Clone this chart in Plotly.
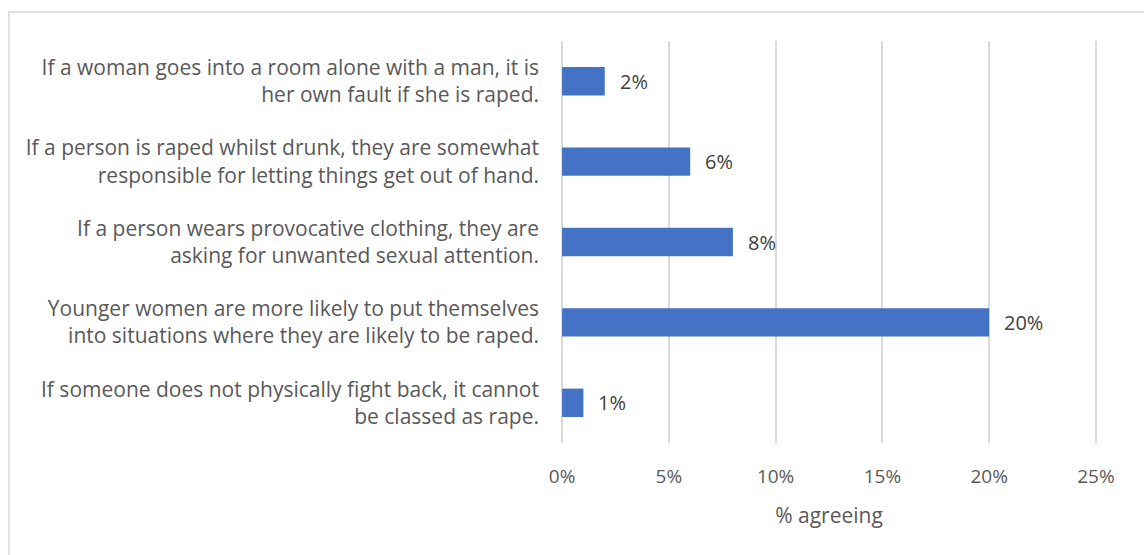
import plotly.graph_objects as go

# Survey statements (top to bottom) and share of respondents agreeing (%)
statements = [
    "If a woman goes into a room alone with a man, it is<br>her own fault if she is raped.",
    "If a person is raped whilst drunk, they are somewhat<br>responsible for letting things get out of hand.",
    "If a person wears provocative clothing, they are<br>asking for unwanted sexual attention.",
    "Younger women are more likely to put themselves<br>into situations where they are likely to be raped.",
    "If someone does not physically fight back, it cannot<br>be classed as rape.",
]
agreeing = [2, 6, 8, 20, 1]
x_ticks = [0, 5, 10, 15, 20, 25]
x_tick_labels = ["0%", "5%", "10%", "15%", "20%", "25%"]

FONT = "Open Sans"
GREY = "#595959"
GRID = "#D9D9D9"

fig = go.Figure(
    go.Bar(
        x=agreeing,
        y=statements,
        orientation="h",
        marker=dict(color="#4472C4", line=dict(width=0)),
        hoverinfo="skip",
    )
)

# value labels to the right of each bar
for v, s in zip(agreeing, statements):
    fig.add_annotation(
        x=v, y=s, xref="x", yref="y",
        text=f"{v}%", showarrow=False,
        xanchor="left", xshift=13,
        font=dict(family=FONT, size=20, color="#404040"),
    )

# light outer chart border
fig.add_shape(
    type="rect", xref="paper", yref="paper",
    x0=-1.03, x1=1.3, y0=-0.6, y1=1.0721,
    line=dict(color=GRID, width=1.5), fillcolor="rgba(0,0,0,0)",
    layer="below",
)

fig.update_layout(
    width=1144, height=555,
    margin=dict(l=561, r=47, t=41, b=112),
    paper_bgcolor="white", plot_bgcolor="white",
    bargap=0.647,
    showlegend=False,
    font=dict(family=FONT, color=GREY),
    xaxis=dict(
        range=[-0.05, 25.05],
        tickvals=x_ticks, ticktext=x_tick_labels,
        showgrid=True, gridcolor=GRID, gridwidth=1.5,
        zeroline=True, zerolinecolor=GRID, zerolinewidth=1.5,
        showline=False, ticks="",
        tickfont=dict(family=FONT, size=19, color=GREY),
        ticklabelstandoff=20,
        title=dict(text="% agreeing", font=dict(family=FONT, size=21, color=GREY), standoff=20),
        fixedrange=True,
    ),
    yaxis=dict(
        autorange="reversed",
        showgrid=False, zeroline=False, showline=False, ticks="",
        tickfont=dict(family=FONT, size=21, color=GREY),
        ticklabelstandoff=21,
        fixedrange=True,
    ),
)

fig.write_html("out.html")
